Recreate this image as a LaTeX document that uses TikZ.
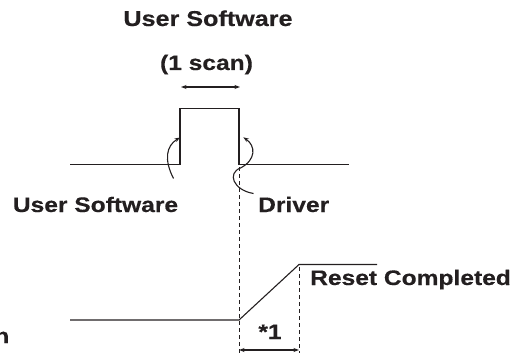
\documentclass[tikz,border=0pt]{standalone}
\usepackage{fontspec}
\setmainfont{Liberation Sans}[FakeStretch=1.17, BoldFeatures={FakeBold=0.4}]
\usetikzlibrary{arrows.meta}
\definecolor{ink}{HTML}{231F20}
\tikzset{
  sig/.style={line width=1.1pt, draw=ink},
  guide/.style={line width=0.9pt, draw=ink, dash pattern=on 4pt off 3pt},
  tip/.style={-{Stealth[length=5.5pt,width=4pt]}},
  dtip/.style={{Stealth[length=5.5pt,width=4pt]}-{Stealth[length=5.5pt,width=4pt]}},
  lbl/.style={inner sep=0pt, text=ink, font=\fontsize{21}{25}\selectfont\bfseries},
}
\begin{document}
\begin{tikzpicture}[x=1pt,y=-1pt]
\useasboundingbox (0,0) rectangle (526,358);
\clip (0,0) rectangle (526,358);
% coordinates
\coordinate (a0) at (70,164.3);
\coordinate (a1) at (180,164.3);
\coordinate (a2) at (180,108.7);
\coordinate (a3) at (239,108.7);
\coordinate (a4) at (239,164.3);
\coordinate (a5) at (349,164.3);
\coordinate (b0) at (70,320);
\coordinate (b1) at (239,320);
\coordinate (b2) at (299,264.5);
\coordinate (b3) at (377,264.5);
\coordinate (s1) at (181,87);
\coordinate (s2) at (240,87);
\coordinate (d1t) at (239,167);
\coordinate (d1b) at (239,353);
\coordinate (d2t) at (299,267);
\coordinate (d2b) at (299,353);
\coordinate (w1) at (239,350);
\coordinate (w2) at (299,350);
\coordinate (l0) at (173.5,178.5);
\coordinate (l1) at (180,137.5);
\coordinate (r0) at (253.5,193.5);
\coordinate (rm) at (240.5,168);
\coordinate (r1) at (243.3,137.3);
% labels
\node[lbl, anchor=base, font=\fontsize{21.5}{25}\selectfont\bfseries] (title) at (208,26) {User Software};
\node[lbl, anchor=base] (scan) at (206.5,70) {(1 scan)};
\node[lbl, anchor=base] (usw) at (95.5,212) {User Software};
\node[lbl, anchor=base west] (drv) at (258,212) {Driver};
\node[lbl, anchor=base west] (rst) at (310,285) {Reset Completed};
\node[lbl, anchor=base] (star) at (270,339) {*1};
\node[lbl, anchor=base east] (cut) at (9.5,343) {n};
% signals
\draw[sig] (a0) -- (a1) -- (a2) -- (a3) -- (a4) -- (a5);
\draw[sig] (b0) -- (b1) -- (b2) -- (b3);
\draw[guide] (d1t) -- (d1b);
\draw[guide] (d2t) -- (d2b);
\draw[sig, dtip] (s1) -- (s2);
\draw[sig, dtip] (w1) -- (w2);
% curved arrows
\draw[sig, tip] (l0) .. controls (164,160) and (166,146) .. (l1);
\draw[sig, tip] (r0) .. controls (233,190) and (227,173) .. (rm)
  .. controls (256,160) and (256,146) .. (r1);
\end{tikzpicture}
\end{document}
